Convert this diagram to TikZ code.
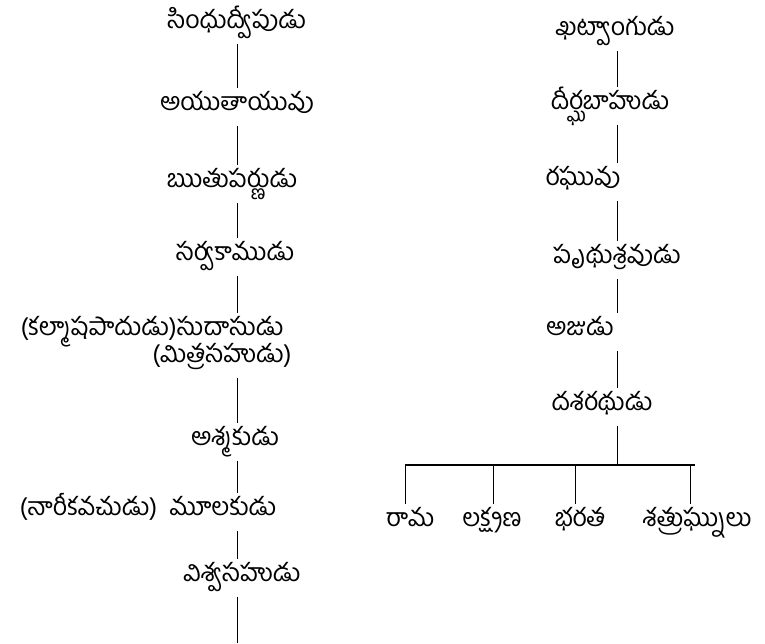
\documentclass[tikz,border=0pt]{standalone}
\usepackage{fontspec}
\newfontfamily\telugu[Script=Telugu]{Hind Guntur}
\usetikzlibrary{positioning, calc}

\begin{document}
\begin{tikzpicture}[x=1pt, y=-1pt,
    every node/.style={font=\telugu\fontsize{25}{28}\selectfont, inner sep=0pt},
    king/.style={align=center, text height=12pt, text depth=4pt},
    link/.style={line width=0.7pt, shorten <=12pt, shorten >=10pt},
    bar/.style={line width=1.1pt}]

  \useasboundingbox (0,0) rectangle (765,643);
  \coordinate (lc) at (237,0);
  \coordinate (rc) at (617,0);

  % left column
  \node[king] (sindhu) at (237,24)  {సింధుద్వీపుడు};
  \node[king] (ayuta)  at (237,106) {అయుతాయువు};
  \node[king] (rtu)    at (232,183) {ఋతుపర్ణుడు};
  \node[king] (sarva)  at (235,256) {సర్వకాముడు};
  \node[king] (sudasa) at (152,331) {(కల్మాషపాదుడు)సుదాసుడు};
  \node[king] (mitra)  at (222,358) {(మిత్రసహుడు)};
  \node[king] (ashma)  at (235,441) {అశ్మకుడు};
  \node[king] (mula)   at (148,511) {(నారీకవచుడు)\ \ మూలకుడు};
  \node[king] (vishva) at (242,577) {విశ్వసహుడు};
  \coordinate (lend) at (237,643);

  \draw[link] (sindhu.south -| lc) -- (ayuta.north -| lc);
  \draw[link] (ayuta.south -| lc) -- (rtu.north -| lc);
  \draw[link] (rtu.south -| lc) -- (sarva.north -| lc);
  \draw[link] (sarva.south -| lc) -- (sudasa.north -| lc);
  \draw[link] (mitra.south -| lc) -- (ashma.north -| lc);
  \draw[link] (ashma.south -| lc) -- (mula.north -| lc);
  \draw[link] (mula.south -| lc) -- (vishva.north -| lc);
  \draw[link, shorten >=0pt] (vishva.south -| lc) -- (lend);

  % right column
  \node[king] (khatva) at (615,31)  {ఖట్వాంగుడు};
  \node[king] (dirgha) at (610,105) {దీర్ఘబాహుడు};
  \node[king] (raghu)  at (583,181) {రఘువు};
  \node[king] (prthu)  at (617,259) {పృథుశ్రవుడు};
  \node[king] (aja)    at (580,331) {అజుడు};
  \node[king] (dasha)  at (602,406) {దశరథుడు};

  \draw[link] (khatva.south -| rc) -- (dirgha.north -| rc);
  \draw[link] (dirgha.south -| rc) -- (raghu.north -| rc);
  \draw[link] (raghu.south -| rc) -- (prthu.north -| rc);
  \draw[link] (prthu.south -| rc) -- (aja.north -| rc);
  \draw[link] (aja.south -| rc) -- (dasha.north -| rc);

  % sons of dasharatha
  \node[king] (rama)   at (410,522) {రామ};
  \node[king] (laksh)  at (492,522) {లక్ష్మణ};
  \node[king] (bharat) at (580,522) {భరత};
  \node[king] (shatru) at (697,522) {శత్రుఘ్నులు};
  \coordinate (bl) at (405,465);
  \coordinate (br) at (695,465);

  \draw[bar] (bl) -- (br);
  \draw[link, shorten >=0pt] (dasha.south -| rc) -- (bl -| rc);
  \draw[link, shorten <=0pt] (bl) -- (rama.north -| bl);
  \draw[link, shorten <=0pt] (bl -| 493,0) -- (laksh.north -| 493,0);
  \draw[link, shorten <=0pt] (bl -| 575,0) -- (bharat.north -| 575,0);
  \draw[link, shorten <=0pt] (bl -| 690,0) -- (shatru.north -| 690,0);
\end{tikzpicture}
\end{document}
